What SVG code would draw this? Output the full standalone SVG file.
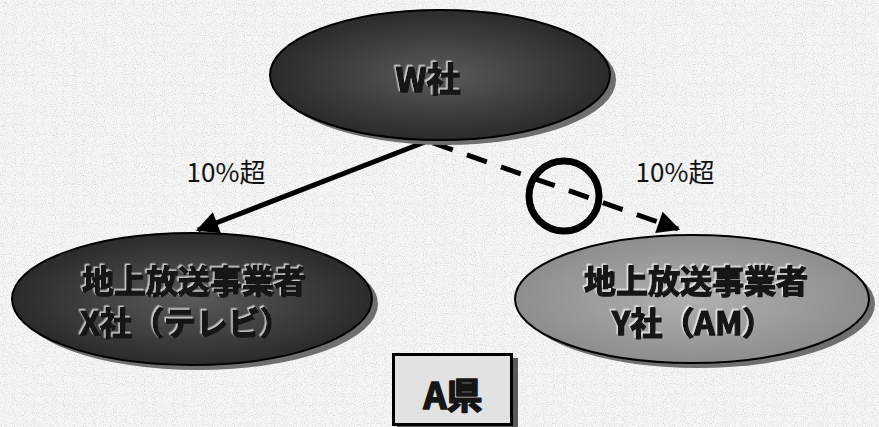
<svg xmlns="http://www.w3.org/2000/svg" width="879" height="427" viewBox="0 0 879 427">
<defs>
<radialGradient id="gDark" cx="50%" cy="50%" r="55%">
<stop offset="0" stop-color="#5a5a5a"/>
<stop offset="1" stop-color="#262626"/>
</radialGradient>
<radialGradient id="gGray" cx="50%" cy="50%" r="55%">
<stop offset="0" stop-color="#b0b0b0"/>
<stop offset="1" stop-color="#8a8a8a"/>
</radialGradient>
<filter id="noise" x="0" y="0" width="100%" height="100%">
<feTurbulence type="fractalNoise" baseFrequency="0.9" numOctaves="1" seed="3"/>
<feColorMatrix type="matrix" values="0 0 0 0 0.4  0 0 0 0 0.4  0 0 0 0 0.4  0 0 0 -3 1.5"/>
</filter>
<filter id="emboss" x="-10%" y="-20%" width="120%" height="140%">
<feDropShadow dx="-1.5" dy="-1.5" stdDeviation="0.3" flood-color="#ffffff" flood-opacity="0.7"/>
</filter>
<marker id="arrow" viewBox="0 0 10 10" refX="9" refY="5" markerWidth="5" markerHeight="4.5" orient="auto" markerUnits="strokeWidth">
<path d="M0,0 L10,5 L0,10 z" fill="#000"/>
</marker>
<style>
.shadow{fill:#6f6f6f;}
.edge{stroke:#000;stroke-width:2;}
.lbl{font-family:"Noto Sans CJK JP","Noto Sans",sans-serif;font-weight:bold;text-anchor:middle;fill:#151515;stroke:#151515;stroke-width:1.6;stroke-linejoin:round;filter:url(#emboss);}
.pct{font-family:"Noto Sans CJK JP","Noto Sans",sans-serif;font-size:26px;fill:#111;text-anchor:middle;}
</style>
</defs>
<rect width="879" height="427" fill="#f6f6f6"/>
<rect width="879" height="427" filter="url(#noise)" opacity="0.45"/>

<g id="connectors">
<line x1="425" y1="142" x2="198" y2="230" stroke="#000" stroke-width="5" marker-end="url(#arrow)"/>
<line x1="433" y1="143" x2="678" y2="229" stroke="#000" stroke-width="5" stroke-dasharray="21,15" marker-end="url(#arrow)"/>
<circle cx="564" cy="196" r="35" fill="none" stroke="#000" stroke-width="7"/>
<text class="pct" x="226" y="182">10%超</text>
<text class="pct" x="675" y="182">10%超</text>
</g>

<g id="nodeW">
<ellipse class="shadow" cx="446" cy="80" rx="170" ry="65"/>
<ellipse class="edge" cx="440" cy="75" rx="170" ry="65" fill="url(#gDark)"/>
<text class="lbl" x="428" y="92" font-size="34">W社</text>
</g>

<g id="nodeX">
<ellipse class="shadow" cx="198" cy="304" rx="180" ry="66"/>
<ellipse class="edge" cx="192" cy="299" rx="180" ry="66" fill="url(#gDark)"/>
<text class="lbl" x="194" y="293" font-size="32">地上放送事業者</text>
<text class="lbl" x="186" y="335" font-size="32">X社（テレビ）</text>
</g>

<g id="nodeY">
<ellipse class="shadow" cx="698" cy="304" rx="177" ry="64"/>
<ellipse class="edge" cx="692" cy="299" rx="177" ry="64" fill="url(#gGray)"/>
<text class="lbl" x="696" y="293" font-size="32">地上放送事業者</text>
<text class="lbl" x="693" y="335" font-size="32">Y社（AM）</text>
</g>

<g id="nodeA">
<rect x="397" y="358" width="121" height="72" fill="#5a5a5a"/>
<rect x="393.5" y="354.5" width="118" height="70" fill="#e2e2e2" stroke="#000" stroke-width="3"/>
<text class="lbl" x="453" y="409" font-size="36" style="filter:none">A県</text>
</g>
</svg>
